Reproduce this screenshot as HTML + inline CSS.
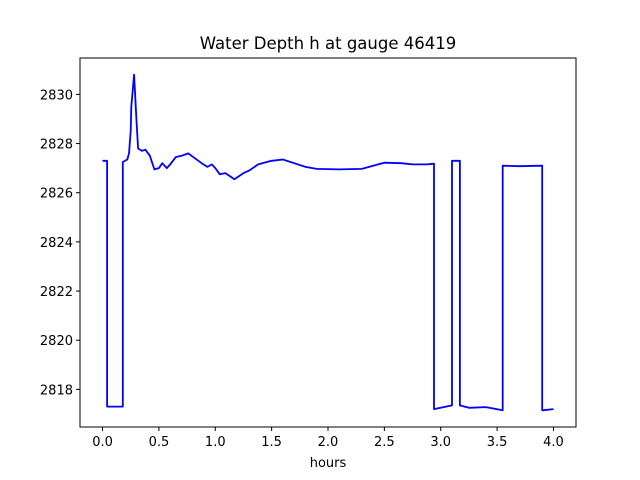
<!DOCTYPE html>
<html><head><meta charset="utf-8"><style>
body{margin:0;background:#fff}
svg{display:block;font-family:"DejaVu Sans","Liberation Sans",sans-serif}
</style></head><body>
<svg id="c" width="640" height="480">
<rect width="640" height="480" fill="#fff"/>
<text x="328" y="49" font-size="16.5" text-anchor="middle">Water Depth h at gauge 46419</text>
<g id="ax"></g>
<path id="line" fill="none" stroke="#0000ff" stroke-width="1.8" stroke-linejoin="round"/>
<rect x="80" y="58" width="496" height="369" fill="none" stroke="#000" stroke-width="1"/>
<text x="328" y="467" font-size="13" text-anchor="middle">hours</text>
</svg>
<script>
const hours=[0,0.04,0.04,0.18,0.18,0.22,0.235,0.25,0.255,0.28,0.30,0.315,0.35,0.38,0.42,0.46,0.5,0.53,0.57,0.6,0.65,0.7,0.76,0.82,0.88,0.93,0.97,1.0,1.04,1.09,1.17,1.25,1.3,1.38,1.5,1.6,1.7,1.8,1.9,2.1,2.3,2.5,2.65,2.75,2.88,2.94,2.94,3.1,3.1,3.17,3.17,3.25,3.4,3.55,3.55,3.7,3.9,3.9,4.0];
const depth=[2827.3,2827.3,2817.3,2817.3,2827.25,2827.35,2827.6,2828.5,2829.5,2830.8,2829,2827.8,2827.7,2827.75,2827.5,2826.95,2827.0,2827.2,2827.0,2827.15,2827.45,2827.5,2827.6,2827.4,2827.2,2827.05,2827.15,2827.0,2826.75,2826.8,2826.55,2826.8,2826.9,2827.15,2827.3,2827.35,2827.2,2827.05,2826.97,2826.95,2826.97,2827.22,2827.2,2827.15,2827.15,2827.18,2817.2,2817.35,2827.3,2827.3,2817.35,2817.25,2817.28,2817.15,2827.1,2827.08,2827.1,2817.15,2817.2];
const xTicks=[0,0.5,1,1.5,2,2.5,3,3.5,4];
const yTicks=[2818,2820,2822,2824,2826,2828,2830];
const X0=80,X1=576,Y0=58,Y1=427;
const xmin=-0.2,xmax=4.2,ymin=2816.47,ymax=2831.48;
const sx=v=>X0+(v-xmin)/(xmax-xmin)*(X1-X0);
const sy=v=>Y1-(v-ymin)/(ymax-ymin)*(Y1-Y0);
const ns="http://www.w3.org/2000/svg",ax=document.getElementById('ax');
function mk(t,a){const e=document.createElementNS(ns,t);for(const k in a)e.setAttribute(k,a[k]);ax.appendChild(e);return e;}
xTicks.forEach(v=>{const x=sx(v);
const l=mk('line',{x1:x,x2:x,y1:Y1,y2:Y1+4,stroke:'#000'});


const t=mk('text',{x:x,y:Y1+19,'font-size':13,'text-anchor':'middle'});t.textContent=v.toFixed(1);

});
yTicks.forEach(v=>{const y=sy(v);
const l=mk('line',{x1:X0-4,x2:X0,y1:y,y2:y,stroke:'#000'});


const t=mk('text',{x:X0-7,y:y+5,'font-size':13,'text-anchor':'end'});t.textContent=v;

});
document.getElementById('line').setAttribute('d',hours.map((h,i)=>(i?'L':'M')+sx(h).toFixed(1)+','+sy(depth[i]).toFixed(1)).join(''));
</script>
</body></html>
